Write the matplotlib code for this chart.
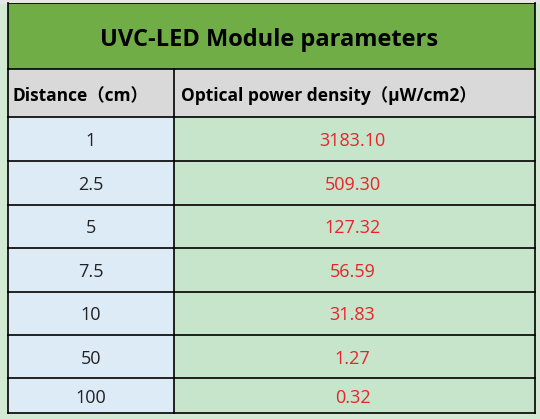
import matplotlib
matplotlib.use("Agg")
import matplotlib.pyplot as plt
from matplotlib.patches import Rectangle

title = "UVC-LED Module parameters"
headers = ["Distance（cm）", "Optical power density（μW/cm2）"]
distances = ["1", "2.5", "5", "7.5", "10", "50", "100"]
densities = ["3183.10", "509.30", "127.32", "56.59", "31.83", "1.27", "0.32"]

plt.rcParams['font.family'] = ['Open Sans', 'Noto Sans CJK SC', 'DejaVu Sans']
fig = plt.figure(figsize=(5.40, 4.19), dpi=100)
fig.patch.set_facecolor('#d2ead4')
ax = fig.add_axes([0, 0, 1, 1])
ax.set_xlim(0, 540); ax.set_ylim(419, 0); ax.axis('off')

L, M, R = 8, 174, 535
ax.add_patch(Rectangle((0, 0), 540, 3, color='#e6e6e6'))
ax.add_patch(Rectangle((L, 3), R - L, 66, facecolor='#70ad47', edgecolor='none'))
ax.text((L + R) / 2 - 2, 40, title, ha='center', va='center', fontsize=17, fontweight='bold', color='black')
ax.add_patch(Rectangle((L, 69), R - L, 48, facecolor='#d9d9d9', edgecolor='none'))
ax.text(L + 5, 96, headers[0], ha='left', va='center', fontsize=12.5, fontweight='bold')
ax.text(M + 7, 96, headers[1], ha='left', va='center', fontsize=12.5, fontweight='bold')

bounds = [117, 161, 204.5, 248, 291.5, 335, 378, 413]
for i, (d, v) in enumerate(zip(distances, densities)):
    y0, y1 = bounds[i], bounds[i + 1]
    ax.add_patch(Rectangle((L, y0), M - L, y1 - y0, facecolor='#ddebf7', edgecolor='none'))
    ax.add_patch(Rectangle((M, y0), R - M, y1 - y0, facecolor='#c6e5cb', edgecolor='none'))
    yc = (y0 + y1) / 2 + 2
    ax.text((L + M) / 2, yc, d, ha='center', va='center', fontsize=13, color='#222222')
    ax.text((M + R) / 2 - 2, yc, v, ha='center', va='center', fontsize=13, color='#e8242a')

for y in [69] + bounds:
    ax.plot([L, R], [y, y], color='black', lw=1.2)
ax.plot([M, M], [69, 413], color='black', lw=1.2)
ax.plot([L, L], [3, 413], color='black', lw=1.2)
ax.plot([R, R], [3, 413], color='black', lw=1.2)
ax.plot([L, R], [3, 3], color='black', lw=0.6)

fig.savefig("out.png", dpi=100, facecolor=fig.get_facecolor())
